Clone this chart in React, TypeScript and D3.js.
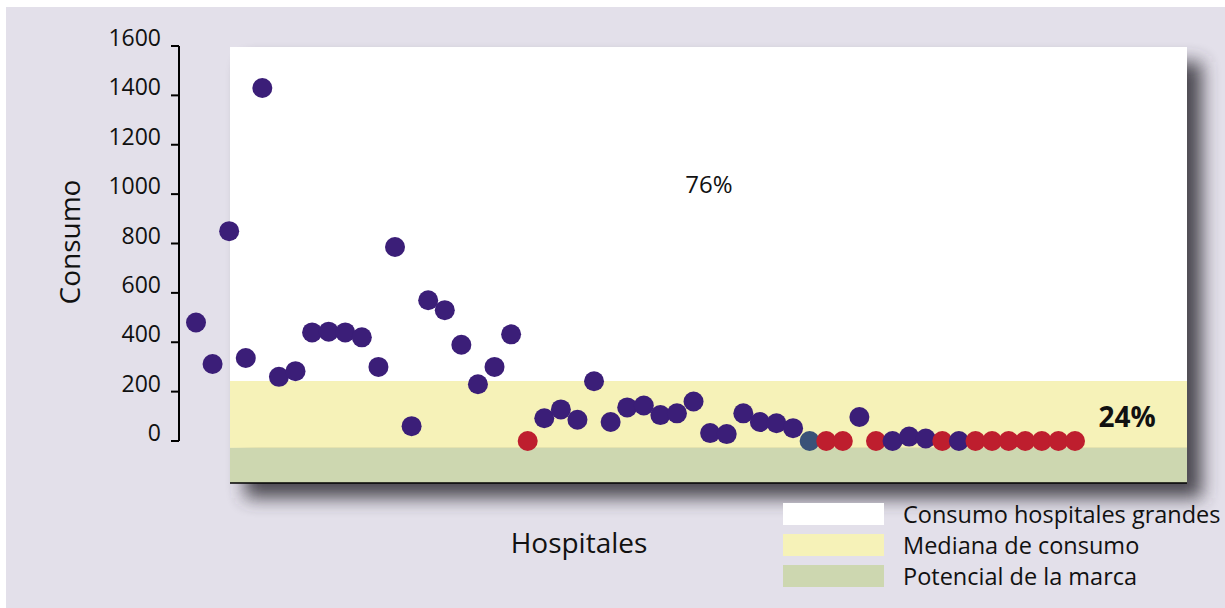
import { useEffect, useRef } from 'react'
import * as d3 from 'd3'

const WIDTH = 1225
const HEIGHT = 608
const FONT = '"Open Sans", "Noto Sans", sans-serif'

// consumption per hospital, left to right
const CONSUMO = [
  480, 312, 850, 336, 1430, 260, 283, 440, 443, 440, 420, 300, 786, 60, 570, 530, 390,
  230, 300, 432, 0, 92, 128, 86, 242, 77, 136, 144, 105, 112, 160, 32, 28, 112, 77, 72,
  52, 0, 0, 0, 97, 0, 0, 18, 10, 0, 0, 0, 0, 0, 0, 0, 0, 0,
]
// p = purple, r = red, b = slate blue
const GRUPO = [
  'p', 'p', 'p', 'p', 'p', 'p', 'p', 'p', 'p', 'p', 'p', 'p', 'p', 'p', 'p', 'p', 'p',
  'p', 'p', 'p', 'r', 'p', 'p', 'p', 'p', 'p', 'p', 'p', 'p', 'p', 'p', 'p', 'p', 'p', 'p', 'p',
  'p', 'b', 'r', 'r', 'p', 'r', 'p', 'p', 'p', 'r', 'p', 'r', 'r', 'r', 'r', 'r', 'r', 'r',
]
const Y_TICKS = [0, 200, 400, 600, 800, 1000, 1200, 1400, 1600]

// band limits in data units
const BANDAS = [
  { label: 'Consumo hospitales grandes', from: 1600, to: 243, color: '#ffffff' },
  { label: 'Mediana de consumo', from: 243, to: -28, color: '#f6f2b8' },
  { label: 'Potencial de la marca', from: -28, to: -170, color: '#cdd7b0' },
]
const PCT_TOP = '76%'
const PCT_BOTTOM = '24%'

const COLORS: Record<string, string> = { p: '#3b1e78', r: '#be1e2e', b: '#3a5278' }

export default function App() {
  const svgRef = useRef<SVGSVGElement>(null)

  useEffect(() => {
    const svgEl = svgRef.current
    if (!svgEl) return
    const svg = d3.select(svgEl)
    svg.selectAll('*').remove()

    const panel = { left: 230, right: 1187 }
    const y = d3.scaleLinear([0, 1600], [441, 46])
    const x = d3.scalePoint<number>(d3.range(CONSUMO.length), [196, 1075])

    // ── Background ─────────────────────────────────────────────────────────────
    svg.append('rect').attr('width', WIDTH).attr('height', HEIGHT).attr('fill', '#ffffff')
    svg.append('rect')
      .attr('x', 6).attr('y', 7).attr('width', WIDTH - 6).attr('height', HEIGHT - 7)
      .attr('fill', '#e3e0ea')

    const defs = svg.append('defs')
    defs.append('filter').attr('id', 'shadow-blur')
      .attr('x', '-10%').attr('y', '-20%').attr('width', '120%').attr('height', '140%')
      .append('feGaussianBlur').attr('stdDeviation', 9)

    // ── Panel with drop shadow ─────────────────────────────────────────────────
    const top = y(BANDAS[0].from) + 1
    const bottom = y(BANDAS[BANDAS.length - 1].to)
    svg.append('rect')
      .attr('x', panel.left + 15).attr('y', top + 15)
      .attr('width', panel.right - panel.left).attr('height', bottom - top)
      .attr('fill', '#3a3840').attr('opacity', 0.9)
      .attr('filter', 'url(#shadow-blur)')

    BANDAS.forEach(b => {
      svg.append('rect')
        .attr('x', panel.left).attr('y', Math.max(y(b.from), top))
        .attr('width', panel.right - panel.left)
        .attr('height', y(b.to) - Math.max(y(b.from), top))
        .attr('fill', b.color)
    })
    svg.append('line')
      .attr('x1', panel.left).attr('x2', panel.right)
      .attr('y1', bottom).attr('y2', bottom)
      .attr('stroke', '#000').attr('stroke-width', 1.5)

    // ── Y axis ─────────────────────────────────────────────────────────────────
    const axisX = 179
    svg.append('line')
      .attr('x1', axisX).attr('x2', axisX).attr('y1', y(1600)).attr('y2', y(0))
      .attr('stroke', '#000').attr('stroke-width', 2)
    Y_TICKS.forEach(t => {
      svg.append('line')
        .attr('x1', axisX - 8).attr('x2', axisX).attr('y1', y(t)).attr('y2', y(t))
        .attr('stroke', '#000').attr('stroke-width', 2)
      svg.append('text')
        .attr('x', 161).attr('y', y(t))
        .attr('text-anchor', 'end').attr('font-family', FONT).attr('font-size', 23)
        .attr('fill', '#111')
        .text(t)
    })

    svg.append('text')
      .attr('transform', `translate(80,${242}) rotate(-90)`)
      .attr('text-anchor', 'middle').attr('font-family', FONT).attr('font-size', 28)
      .attr('fill', '#111')
      .text('Consumo')

    svg.append('text')
      .attr('x', 579).attr('y', 553)
      .attr('text-anchor', 'middle').attr('font-family', FONT).attr('font-size', 28)
      .attr('fill', '#111')
      .text('Hospitales')

    // ── Dots ───────────────────────────────────────────────────────────────────
    svg.append('g').selectAll('circle')
      .data(CONSUMO)
      .join('circle')
      .attr('cx', (_, i) => x(i)!)
      .attr('cy', d => y(d))
      .attr('r', 10)
      .attr('fill', (_, i) => COLORS[GRUPO[i]])

    // ── Percent labels ────────────────────────────────────────────────────────
    svg.append('text')
      .attr('x', 709).attr('y', 193)
      .attr('text-anchor', 'middle').attr('font-family', FONT).attr('font-size', 24)
      .attr('fill', '#111')
      .text(PCT_TOP)
    svg.append('text')
      .attr('x', 1127).attr('y', 427)
      .attr('text-anchor', 'middle').attr('font-family', FONT).attr('font-size', 28)
      .attr('font-weight', 'bold').attr('fill', '#111')
      .text(PCT_BOTTOM)

    // ── Legend ─────────────────────────────────────────────────────────────────
    BANDAS.forEach((b, i) => {
      const ly = 503 + i * 31
      svg.append('rect')
        .attr('x', 783).attr('y', ly).attr('width', 101).attr('height', 22)
        .attr('fill', b.color)
      svg.append('text')
        .attr('x', 903).attr('y', ly + 20)
        .attr('font-family', FONT).attr('font-size', 23.5).attr('fill', '#111')
        .text(b.label)
    })
  }, [])

  return (
    <svg
      ref={svgRef}
      width={WIDTH}
      height={HEIGHT}
      style={{ position: 'absolute', left: 0, top: 0 }}
    />
  )
}
